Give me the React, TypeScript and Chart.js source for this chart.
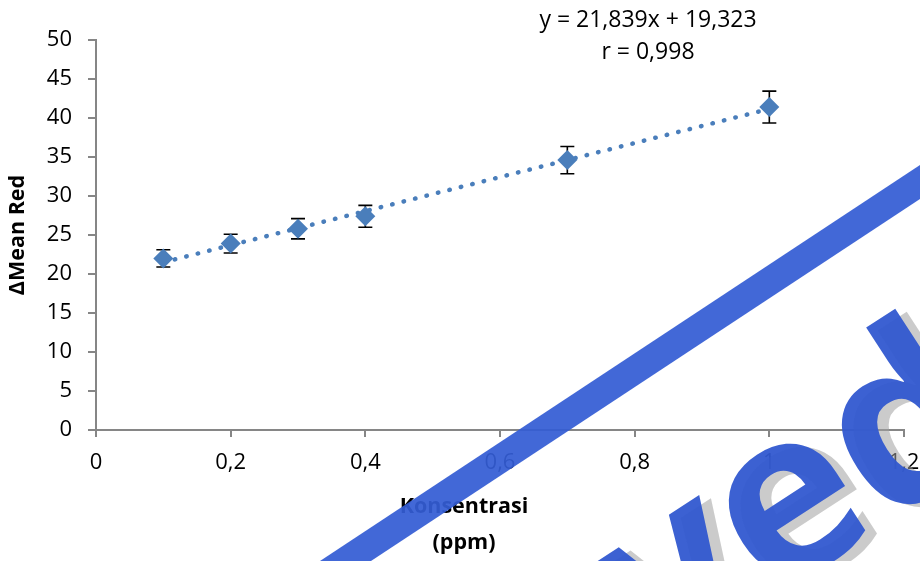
import React, { useEffect, useRef } from 'react';
import { Chart, registerables } from 'chart.js';

Chart.register(...registerables);

// ---- data ----
const concentration = [0.1, 0.2, 0.3, 0.4, 0.7, 1.0];
const meanRed = [22.0, 23.9, 25.8, 27.4, 34.6, 41.4];
const errorSD = [1.1, 1.2, 1.3, 1.4, 1.75, 2.05];
const trendX = [0.1, 1.0];
const trendY = [21.507, 41.162];
const xTickLabels = ['0', '0,2', '0,4', '0,6', '0,8', '1', '1,2'];
const equationLines = ['y = 21,839x + 19,323', 'r = 0,998'];
const xTitleLines = ['Konsentrasi', '(ppm)'];
const yTitle = 'ΔMean Red';
const watermarkText = 'ved';

const BLUE = '#4A7EBB';
const FONT = "'Open Sans', 'DejaVu Sans', sans-serif";

const errorBarPlugin = {
  id: 'errorBars',
  beforeDatasetsDraw(chart: any) {
    const { ctx, scales } = chart;
    const xs = scales.x;
    const ys = scales.y;
    ctx.save();
    ctx.strokeStyle = '#000';
    ctx.lineWidth = 1.6;
    concentration.forEach((c, i) => {
      const px = xs.getPixelForValue(c);
      const top = ys.getPixelForValue(meanRed[i] + errorSD[i]);
      const bot = ys.getPixelForValue(meanRed[i] - errorSD[i]);
      ctx.beginPath();
      ctx.moveTo(px, top);
      ctx.lineTo(px, bot);
      ctx.moveTo(px - 7, top);
      ctx.lineTo(px + 7, top);
      ctx.moveTo(px - 7, bot);
      ctx.lineTo(px + 7, bot);
      ctx.stroke();
    });
    ctx.restore();
  },
};

const textPlugin = {
  id: 'extraText',
  afterDatasetsDraw(chart: any) {
    const { ctx } = chart;
    ctx.save();
    ctx.fillStyle = '#000';
    ctx.textAlign = 'center';
    ctx.textBaseline = 'middle';
    ctx.font = `23px ${FONT}`;
    ctx.fillText(equationLines[0], 648, 20);
    ctx.fillText(equationLines[1], 648, 52);
    ctx.font = `bold 21.5px ${FONT}`;
    ctx.fillText(xTitleLines[0], 464, 507);
    ctx.fillText(xTitleLines[1], 464, 543);
    ctx.restore();
  },
};

const watermarkPlugin = {
  id: 'watermark',
  afterDraw(chart: any) {
    const { ctx } = chart;
    ctx.save();
    ctx.fillStyle = 'rgba(52,92,212,0.93)';
    ctx.beginPath();
    ctx.moveTo(320, 561);
    ctx.lineTo(920, 165);
    ctx.lineTo(920, 199);
    ctx.lineTo(371, 561);
    ctx.closePath();
    ctx.fill();

    const ang = (-33 * Math.PI) / 180;
    ctx.translate(792, 512);
    ctx.rotate(ang);
    ctx.font = `bold 232px ${FONT}`;
    ctx.textBaseline = 'alphabetic';
    ctx.textAlign = 'left';
    const wv = ctx.measureText('v').width;
    const we = ctx.measureText('e').width;
    const startX = -wv - we / 2;
    const baseY = 62;
    ctx.fillStyle = 'rgba(160,160,160,0.55)';
    ctx.fillText(watermarkText, startX + 8, baseY + 9);
    ctx.fillStyle = 'rgba(50,88,208,0.95)';
    ctx.fillText(watermarkText, startX, baseY);
    ctx.restore();
  },
};

export default function App() {
  const ref = useRef<HTMLCanvasElement | null>(null);

  useEffect(() => {
    if (!ref.current) return;
    const chart = new Chart(ref.current, {
      type: 'scatter',
      data: {
        datasets: [
          {
            label: yTitle,
            data: concentration.map((x, i) => ({ x, y: meanRed[i] })),
            pointStyle: 'rectRot',
            pointRadius: 10,
            pointHoverRadius: 10,
            backgroundColor: BLUE,
            borderColor: BLUE,
            borderWidth: 0,
            showLine: false,
            order: 1,
          } as any,
          {
            type: 'line',
            label: 'Trendline',
            data: trendX.map((x, i) => ({ x, y: trendY[i] })),
            borderColor: BLUE,
            borderWidth: 4.5,
            borderDash: [0.5, 11.3],
            borderCapStyle: 'round',
            pointRadius: 0,
            fill: false,
            order: 2,
          } as any,
        ],
      },
      options: {
        animation: false,
        responsive: false,
        maintainAspectRatio: false,
        layout: { padding: { top: 40, right: 0, left: 0, bottom: 0 } },
        plugins: {
          legend: { display: false },
          tooltip: { enabled: false },
        },
        scales: {
          x: {
            type: 'linear',
            min: 0,
            max: 1.2,
            afterFit: (s: any) => {
              s.height = 131;
              s.paddingRight = 16;
            },
            ticks: {
              stepSize: 0.2,
              color: '#000',
              font: { family: FONT, size: 22 },
              padding: 13,
              maxRotation: 0,
              callback: (_v: any, i: number) => xTickLabels[i] ?? '',
            },
            grid: {
              drawOnChartArea: false,
              drawTicks: true,
              tickLength: 7,
              color: '#868686',
              lineWidth: 2,
            },
            border: { color: '#868686', width: 2 },
          },
          y: {
            type: 'linear',
            min: 0,
            max: 50,
            afterFit: (s: any) => {
              s.width = 96;
            },
            ticks: {
              stepSize: 5,
              color: '#000',
              font: { family: FONT, size: 22 },
              padding: 16,
            },
            grid: {
              drawOnChartArea: false,
              drawTicks: true,
              tickLength: 8,
              color: '#868686',
              lineWidth: 2,
            },
            border: { color: '#868686', width: 2 },
            title: {
              display: true,
              text: yTitle,
              color: '#000',
              font: { family: FONT, size: 21.5, weight: 'bold' },
              padding: { top: 5, bottom: 0 },
            },
          },
        },
      },
      plugins: [errorBarPlugin, textPlugin, watermarkPlugin],
    });
    return () => chart.destroy();
  }, []);

  return (
    <div style={{ position: 'absolute', left: 0, top: 0, width: 920, height: 561, background: '#fff' }}>
      <canvas ref={ref} width={920} height={561} style={{ display: 'block' }} />
    </div>
  );
}
